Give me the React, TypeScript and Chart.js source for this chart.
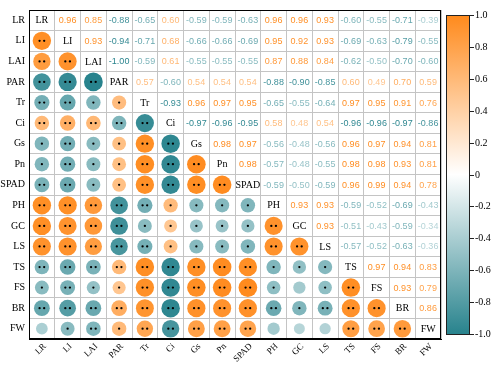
import { useEffect, useRef } from 'react';
import { Chart, registerables } from 'chart.js';
Chart.register(...registerables);

const VARS = ['LR', 'LI', 'LAI', 'PAR', 'Tr', 'Ci', 'Gs', 'Pn', 'SPAD', 'PH', 'GC', 'LS', 'TS', 'FS', 'BR', 'FW'];
// upper-triangle rows (values to the right of the diagonal)
const rLR = [0.96, 0.85, -0.88, -0.65, 0.6, -0.59, -0.59, -0.63, 0.96, 0.96, 0.93, -0.6, -0.55, -0.71, -0.39];
const rLI = [0.93, -0.94, -0.71, 0.68, -0.66, -0.66, -0.69, 0.95, 0.92, 0.93, -0.69, -0.63, -0.79, -0.55];
const rLAI = [-1.0, -0.59, 0.61, -0.55, -0.55, -0.55, 0.87, 0.88, 0.84, -0.62, -0.5, -0.7, -0.6];
const rPAR = [0.57, -0.6, 0.54, 0.54, 0.54, -0.88, -0.9, -0.85, 0.6, 0.49, 0.7, 0.59];
const rTr = [-0.93, 0.96, 0.97, 0.95, -0.65, -0.55, -0.64, 0.97, 0.95, 0.91, 0.76];
const rCi = [-0.97, -0.96, -0.95, 0.58, 0.48, 0.54, -0.96, -0.96, -0.97, -0.86];
const rGs = [0.98, 0.97, -0.56, -0.48, -0.56, 0.96, 0.97, 0.94, 0.81];
const rPn = [0.98, -0.57, -0.48, -0.55, 0.98, 0.98, 0.93, 0.81];
const rSPAD = [-0.59, -0.5, -0.59, 0.96, 0.99, 0.94, 0.78];
const rPH = [0.93, 0.93, -0.59, -0.52, -0.69, -0.43];
const rGC = [0.93, -0.51, -0.43, -0.59, -0.34];
const rLS = [-0.57, -0.52, -0.63, -0.36];
const rTS = [0.97, 0.94, 0.83];
const rFS = [0.93, 0.79];
const rBR = [0.86];
const UPPER = [rLR, rLI, rLAI, rPAR, rTr, rCi, rGs, rPn, rSPAD, rPH, rGC, rLS, rTS, rFS, rBR, []];
const CB_TICKS = [1.0, 0.8, 0.6, 0.4, 0.2, 0, -0.2, -0.4, -0.6, -0.8, -1.0];

const ORANGE = [255, 138, 28];
const TEAL = [40, 131, 141];

function colorFor(v: number): string {
  const t = Math.min(1, Math.abs(v));
  const c = v >= 0 ? ORANGE : TEAL;
  const r = Math.round(255 + (c[0] - 255) * t);
  const g = Math.round(255 + (c[1] - 255) * t);
  const b = Math.round(255 + (c[2] - 255) * t);
  return `rgb(${r},${g},${b})`;
}

function corr(i: number, j: number): number {
  if (i === j) return 1;
  const a = Math.min(i, j);
  const b = Math.max(i, j);
  return UPPER[a][b - a - 1];
}

function stars(v: number): number {
  const a = Math.abs(v);
  if (a >= 0.595) return 2;
  if (a >= 0.465) return 1;
  return 0;
}

const SERIF = '"Liberation Serif", "Times New Roman", serif';
const SANS = '"Liberation Sans", Arial, sans-serif';

export default function App() {
  const ref = useRef<HTMLCanvasElement>(null);
  useEffect(() => {
    document.body.style.margin = '0';
    const n = VARS.length;
    const pts: any[] = [];
    for (let i = 0; i < n; i++) {
      for (let j = 0; j < i; j++) {
        const v = corr(i, j);
        pts.push({ x: VARS[j], y: VARS[i], r: 9.4 * Math.sqrt(Math.abs(v)), v, i, j });
      }
    }
    const overlay = {
      id: 'overlay',
      afterDatasetsDraw(chart: any) {
        const ctx = chart.ctx;
        const xs = chart.scales.x;
        const ys = chart.scales.y;
        const area = chart.chartArea;
        ctx.save();
        // stars
        ctx.fillStyle = '#000';
        for (const p of pts) {
          const cx = xs.getPixelForValue(p.j);
          const cy = ys.getPixelForValue(p.i);
          const s = stars(p.v);
          const offs = s === 2 ? [-2.3, 2.3] : s === 1 ? [0] : [];
          for (const o of offs) {
            ctx.beginPath();
            ctx.arc(cx + o, cy, 1.15, 0, Math.PI * 2);
            ctx.fill();
          }
        }
        // upper values and diagonal labels
        ctx.textAlign = 'center';
        ctx.textBaseline = 'middle';
        for (let i = 0; i < n; i++) {
          for (let j = i; j < n; j++) {
            const cx = xs.getPixelForValue(j);
            const cy = ys.getPixelForValue(i);
            if (i === j) {
              ctx.font = `10px ${SERIF}`;
              ctx.fillStyle = '#000';
              ctx.fillText(VARS[i], cx, cy + 0.5);
            } else {
              const v = corr(i, j);
              ctx.font = `9px ${SANS}`;
              ctx.fillStyle = colorFor(v);
              ctx.fillText(v.toFixed(2), cx, cy + 0.5);
            }
          }
        }
        // rotated x-axis category labels
        ctx.font = `9px ${SERIF}`;
        ctx.fillStyle = '#000';
        ctx.textAlign = 'right';
        ctx.textBaseline = 'middle';
        for (let j = 0; j < n; j++) {
          const x = xs.getPixelForValue(j);
          ctx.save();
          ctx.translate(x + 3, area.bottom + 6);
          ctx.rotate(-Math.PI / 4);
          ctx.fillText(VARS[j], 0, 0);
          ctx.restore();
        }
        // frame
        ctx.strokeStyle = '#000';
        ctx.lineWidth = 1;
        ctx.strokeRect(Math.round(area.left) + 0.5, Math.round(area.top) + 0.5,
          Math.round(area.right - area.left) - 1, Math.round(area.bottom - area.top) - 1);
        // colorbar
        const cbL = Math.round(area.right) + 5;
        const cbR = cbL + 24;
        const cbT = area.top + 5;
        const cbB = area.bottom - 5;
        const grad = ctx.createLinearGradient(0, cbT, 0, cbB);
        grad.addColorStop(0, colorFor(1));
        grad.addColorStop(0.25, colorFor(0.5));
        grad.addColorStop(0.5, colorFor(0));
        grad.addColorStop(0.75, colorFor(-0.5));
        grad.addColorStop(1, colorFor(-1));
        ctx.fillStyle = grad;
        ctx.fillRect(cbL, cbT, cbR - cbL, cbB - cbT);
        ctx.strokeStyle = '#222';
        ctx.strokeRect(cbL + 0.5, Math.round(cbT) + 0.5, cbR - cbL - 1, Math.round(cbB - cbT));
        ctx.font = `10px ${SERIF}`;
        ctx.fillStyle = '#000';
        ctx.textAlign = 'left';
        ctx.textBaseline = 'middle';
        for (const t of CB_TICKS) {
          const y = Math.round(cbT + ((1 - t) / 2) * (cbB - cbT)) + 0.5;
          ctx.beginPath();
          ctx.moveTo(cbR, y);
          ctx.lineTo(cbR + 4, y);
          ctx.stroke();
          const lbl = t === 0 ? '0' : t.toFixed(1);
          ctx.fillText(lbl, cbR + 5, y);
        }
        ctx.restore();
      },
    };
    const chart = new Chart(ref.current!, {
      type: 'bubble',
      data: {
        datasets: [
          {
            data: pts,
            backgroundColor: (c: any) => colorFor(c.raw ? c.raw.v : 0),
            borderWidth: 0,
          },
        ],
      },
      options: {
        animation: false,
        responsive: false,
        events: [],
        layout: { padding: { top: 3, right: 59, left: 0, bottom: 0 } },
        plugins: { legend: { display: false }, tooltip: { enabled: false } },
        scales: {
          x: {
            type: 'category',
            labels: VARS,
            offset: true,
            grid: { offset: true, color: '#c4c4c4', drawTicks: false },
            border: { color: '#000', width: 1 },
            ticks: { display: false, autoSkip: false },
            afterFit: (s: any) => { s.height = 30; },
          },
          y: {
            type: 'category',
            labels: VARS,
            offset: true,
            grid: { offset: true, color: '#c4c4c4', drawTicks: false },
            border: { color: '#000', width: 1 },
            ticks: {
              autoSkip: false,
              padding: 4,
              color: '#000',
              font: { family: SERIF, size: 10 },
            },
            afterFit: (s: any) => { s.width = 29; },
          },
        },
      } as any,
      plugins: [overlay],
    });
    return () => chart.destroy();
  }, []);
  return (
    <div style={{ width: 500, height: 369 }}>
      <canvas ref={ref} width={500} height={369} style={{ display: 'block' }} />
    </div>
  );
}
